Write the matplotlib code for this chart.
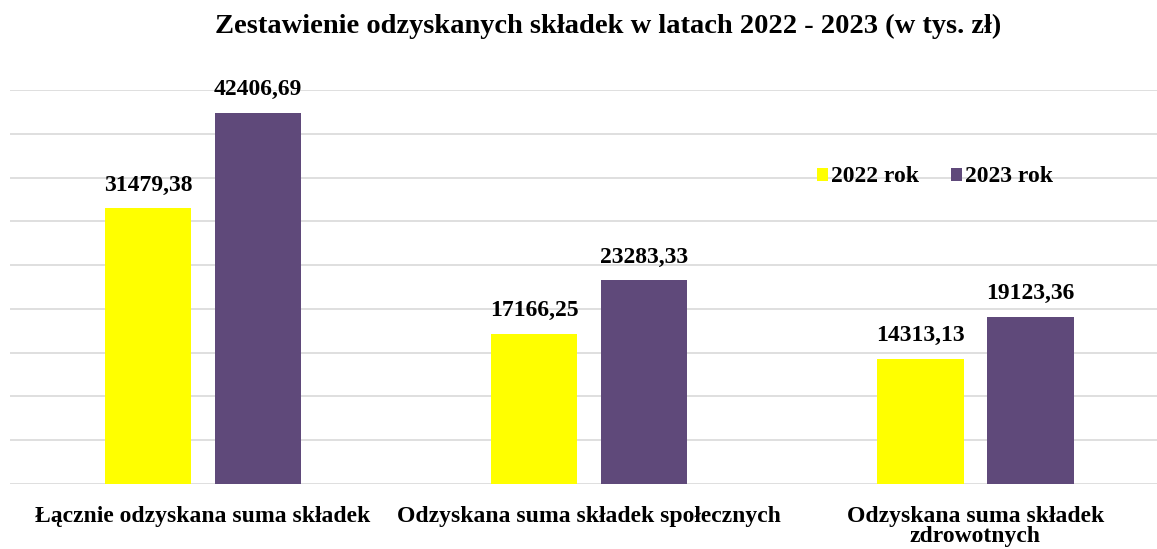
import matplotlib
matplotlib.use("Agg")
import matplotlib.pyplot as plt
import numpy as np

categories = ["Łącznie odzyskana suma składek",
              "Odzyskana suma składek społecznych",
              "Odzyskana suma składek\nzdrowotnych"]
series_names = ["2022 rok", "2023 rok"]
vals_2022 = [31479.38, 17166.25, 14313.13]
vals_2023 = [42406.69, 23283.33, 19123.36]
labels_2022 = ["31479,38", "17166,25", "14313,13"]
labels_2023 = ["42406,69", "23283,33", "19123,36"]

plt.rcParams['font.family'] = ['Liberation Serif', 'DejaVu Serif']

fig = plt.figure(figsize=(11.57, 5.49), dpi=100)
ax = fig.add_axes([10/1157, 65/549, 1147/1157, 394/549])

x = np.arange(len(categories))
w = 0.223
off = 0.1425
b1 = ax.bar(x - off, vals_2022, w, color="#FFFF00", label=series_names[0], zorder=3)
b2 = ax.bar(x + off, vals_2023, w, color="#5F497A", label=series_names[1], zorder=3)

for bars, labs in ((b1, labels_2022), (b2, labels_2023)):
    for r, t in zip(bars, labs):
        ax.annotate(t, (r.get_x() + r.get_width()/2, r.get_height()),
                    xytext=(0, 9), textcoords="offset points",
                    ha="center", va="bottom", fontsize=17, fontweight="bold")

ax.set_xlim(-0.5, 2.47)
ax.set_ylim(0, 45000)
ax.set_yticks(np.arange(0, 45001, 5000))
ax.yaxis.grid(True, color="#D9D9D9", linewidth=1.2, zorder=0)
ax.tick_params(axis="y", left=False, labelleft=False)
ax.tick_params(axis="x", bottom=False, pad=12)
ax.set_xticks(x)
ax.set_xticklabels(categories, fontsize=17, fontweight="bold", va="top", linespacing=0.95)
for s in ax.spines.values():
    s.set_visible(False)

ax.legend(loc="upper left", bbox_to_anchor=(0.685, 0.86), ncol=2, frameon=False,
          prop={"size": 17, "weight": "bold"}, handlelength=0.47, handleheight=0.47,
          handletextpad=0.12, columnspacing=1.36)

fig.suptitle("Zestawienie odzyskanych składek w latach 2022 - 2023 (w tys. zł)",
             x=0.526, y=0.975, fontsize=20.5, fontweight="bold")

fig.savefig("out.png", dpi=100)
